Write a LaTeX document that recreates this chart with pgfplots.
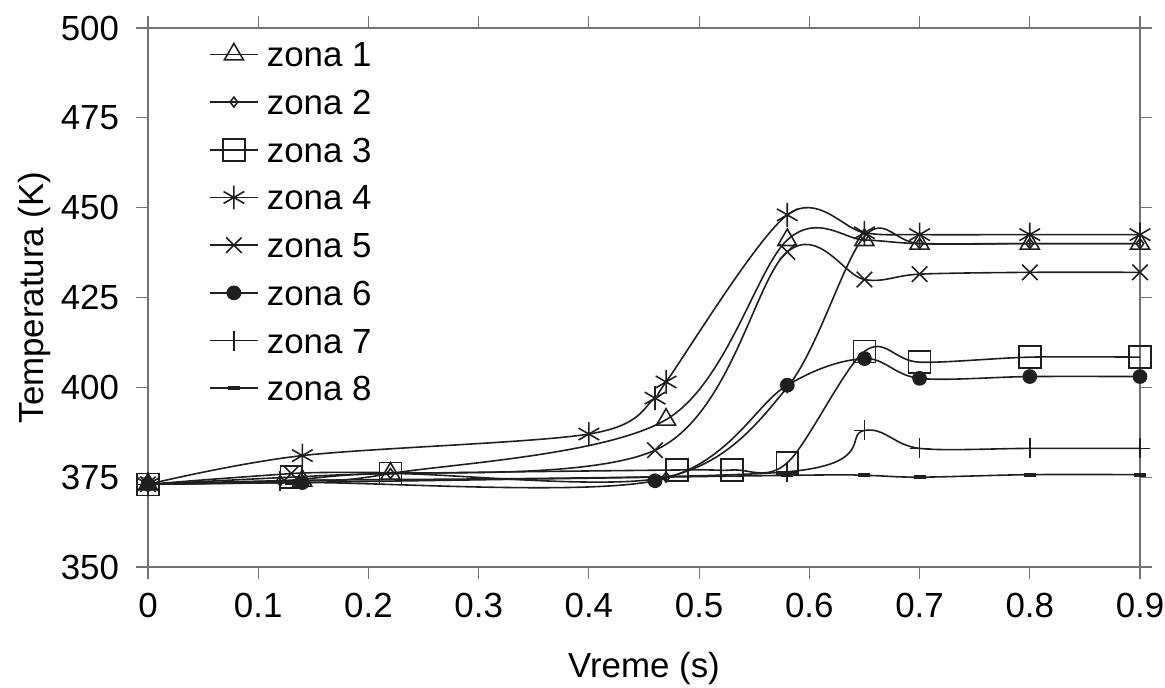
\documentclass[border=0pt]{standalone}
\usepackage{pgfplots}
\pgfplotsset{compat=1.18}
\usepackage{fontspec}
\setmainfont{Liberation Sans}
\definecolor{ink}{gray}{0.12}
\definecolor{axgray}{gray}{0.45}
\begin{document}
\begin{tikzpicture}
\begin{axis}[
  scale only axis,
  width=496bp, height=269.5bp,
  xmin=0, xmax=0.9, ymin=350, ymax=500,
  xtick={0,0.1,0.2,0.3,0.4,0.5,0.6,0.7,0.8,0.9},
  xticklabels={0,0.1,0.2,0.3,0.4,0.5,0.6,0.7,0.8,0.9},
  ytick={350,375,400,425,450,475,500},
  yticklabels={350,375,400,425,450,475,500},
  tick align=outside,
  major tick length=6pt,
  tick style={axgray, line width=0.6pt},
  axis line style={axgray, line width=0.7pt},
  x tick label style={font=\fontsize{17.5}{20}\selectfont, yshift=-3.5bp},
  y tick label style={font=\fontsize{17.5}{20}\selectfont, xshift=-5bp},
  xlabel={Vreme (s)},
  ylabel={Temperatura (K)},
  label style={font=\fontsize{17.5}{20}\selectfont},
  xlabel style={yshift=-10.5bp},
  ylabel style={yshift=-2bp},
  every axis plot/.append style={ink, line width=0.8pt, smooth, tension=0.55},
  legend cell align=left,
  legend style={at={(axis description cs:0.062,0.975)}, anchor=north west,
    draw=none, fill=none, inner sep=0pt, row sep=11.35bp,
    font=\fontsize{17.5}{20}\selectfont,
    nodes={inner sep=0pt, text height=12.5bp, text depth=0pt}},
  legend image code/.code={%
    \draw[overlay, mark repeat=2, mark phase=2, #1] plot coordinates {(0bp,0bp) (12bp,0bp) (24bp,0bp)};%
    \path[draw=none, fill=none] (0bp,-6.25bp) rectangle (28.5bp,6.25bp);},
]
\addplot[mark=triangle, mark size=5.5pt] coordinates {
(0,373) (0.14,374) (0.22,376) (0.47,391) (0.58,441) (0.65,441) (0.7,440) (0.8,440) (0.9,440)};
\addlegendentry{zona 1}
\addplot[mark=diamond, mark size=2.5pt] coordinates {
(0,373) (0.12,374) (0.22,376) (0.47,375) (0.58,400) (0.65,442) (0.7,440) (0.8,440) (0.9,440)};
\addlegendentry{zona 2}
\addplot[mark=square, mark size=5.5pt] coordinates {
(0,373) (0.13,375) (0.22,376) (0.48,377) (0.53,377) (0.58,379) (0.65,410) (0.7,407) (0.8,408.4) (0.9,408.4)};
\addlegendentry{zona 3}
\addplot[mark=asterisk, mark size=6pt] coordinates {
(0,373) (0.14,381) (0.40,387) (0.46,397) (0.47,401.5) (0.58,448) (0.65,443) (0.7,442.5) (0.8,442.5) (0.9,442.5)};
\addlegendentry{zona 4}
\addplot[mark=x, mark size=5.5pt] coordinates {
(0,373) (0.13,376) (0.46,382.5) (0.58,437.7) (0.65,430) (0.7,431.5) (0.8,432) (0.9,432)};
\addlegendentry{zona 5}
\addplot[mark=*, mark size=3.3pt] coordinates {
(0,373) (0.14,373.5) (0.46,374) (0.58,400.6) (0.65,408) (0.7,402.5) (0.8,403) (0.9,403)};
\addlegendentry{zona 6}
\addplot[mark=+, mark size=5pt] coordinates {
(0,373) (0.12,374) (0.58,376.5) (0.65,388) (0.7,383) (0.8,383) (0.9,383)};
\addlegendentry{zona 7}
\addplot[mark=-, mark size=3pt, mark options={line width=2pt}] coordinates {
(0,373) (0.13,373.5) (0.58,375.5) (0.65,375.5) (0.7,375) (0.8,375.7) (0.9,375.7)};
\addlegendentry{zona 8}
\coordinate (sw) at (rel axis cs:0,0);
\coordinate (ne) at (rel axis cs:1,1);
\end{axis}
\pgfresetboundingbox
\path[use as bounding box] ([shift={(-74bp,-60.5bp)}]sw) rectangle ([shift={(12.5bp,14bp)}]ne);
\end{tikzpicture}
\end{document}
